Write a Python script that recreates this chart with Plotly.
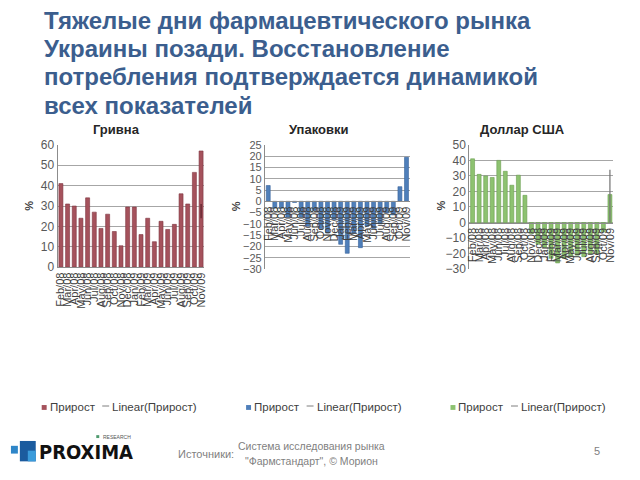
import plotly.graph_objects as go

# Months on the category axis (Feb/08 .. Nov/09)
months = ["Feb/08", "Mar/08", "Apr/08", "May/08", "Jun/08", "Jul/08", "Aug/08", "Sep/08",
          "Oct/08", "Nov/08", "Dec/08", "Jan/09", "Feb/09", "Mar/09", "Apr/09", "May/09",
          "Jun/09", "Jul/09", "Aug/09", "Sep/09", "Oct/09", "Nov/09"]

# Growth, %
grivna = [41, 31, 30, 24, 34, 27, 19, 26, 17.5, 10.5, 29.5, 29.5, 16, 24, 12.5, 22.5,
          18.5, 21, 36, 31, 46.5, 57]
upakovki = [7, -3, -3, -7, -0.5, -7, -11, -4, -12, -14, -8, -19, -23, -14, -20.5, -11,
            -12, -10, -5, -6, 6.5, 19.5]
dollar = [41, 31, 30, 29, 40, 33, 24, 30.5, 17.5, -7, -14, -16, -23, -26, -23, -22,
          -21, -22, -20, -20, -6, 18]

# what is visible of the linear trend lines
trend_grivna = [24, 31]
trend_dollar = [0, 34]

titles = ["Гривна", "Упаковки", "Доллар США"]
headline = ["Тяжелые дни фармацевтического рынка",
            "Украины позади. Восстановление",
            "потребления подтверждается динамикой",
            "всех показателей"]

W, H = 640, 480
FONT = "Liberation Sans, Arial, sans-serif"


def px(x):
    return x / W


def py(y):
    return 1 - y / H


charts = [
    dict(vals=grivna, color="#A5525C", edge="#7E3440", xr=(55, 203), yr=(142, 268),
         rng=(0, 60), dtick=10, ysize=12, trend=trend_grivna, tcolor="#5A1F2A", title_x=114),
    dict(vals=upakovki, color="#4F7FBA", edge="#36629A", xr=(264, 410), yr=(142, 270),
         rng=(-30, 25), dtick=5, ysize=11, trend=None, tcolor="#555555", title_x=318),
    dict(vals=dollar, color="#8DC270", edge="#6A9E4F", xr=(470, 615), yr=(142, 270),
         rng=(-30, 50), dtick=10, ysize=12, trend=trend_dollar, tcolor="#707070", title_x=524),
]


def note(text, x, y, size, color="#404040", xanchor="center", **kw):
    return dict(text=text, x=px(x), y=py(y), xref="paper", yref="paper", showarrow=False,
                xanchor=xanchor, yanchor="middle", font=dict(size=size, color=color), **kw)


fig = go.Figure()
layout = dict(width=W, height=H, margin=dict(l=0, r=0, t=0, b=0),
              paper_bgcolor="white", plot_bgcolor="white", showlegend=False,
              bargap=0.4, font=dict(family=FONT, color="#404040"))
annotations = []
shapes = []

for i, c in enumerate(charts, start=1):
    sfx = "" if i == 1 else str(i)
    xa, ya = "x" + sfx, "y" + sfx
    fig.add_trace(go.Bar(x=months, y=c["vals"], xaxis=xa, yaxis=ya, name="Прирост",
                         marker=dict(color=c["color"], line=dict(color=c["edge"], width=0.6))))
    if c["trend"]:
        fig.add_trace(go.Scatter(x=[months[-1]] * len(c["trend"]), y=c["trend"],
                                 xaxis=xa, yaxis=ya, mode="lines", name="Linear(Прирост)",
                                 line=dict(color=c["tcolor"], width=1.2)))

    ydom = [py(c["yr"][1]), py(c["yr"][0])]
    lo, hi = c["rng"]
    xaxis = dict(domain=[px(c["xr"][0]), px(c["xr"][1])], type="category",
                 tickmode="array", tickvals=months, ticktext=months,
                 tickangle=-90, tickfont=dict(size=11, color="#404040"),
                 showline=True, linecolor="#8C8C8C", linewidth=1, ticks="",
                 showgrid=False, fixedrange=True)
    if lo < 0:
        # category labels hang from the zero line, as in Excel
        zero_frac = ydom[0] + (0 - lo) / (hi - lo) * (ydom[1] - ydom[0])
        xaxis.update(anchor="free", position=zero_frac)
    else:
        xaxis.update(anchor=ya)
    layout["xaxis" + sfx] = xaxis
    layout["yaxis" + sfx] = dict(domain=ydom, range=[lo, hi], dtick=c["dtick"],
                                 anchor=xa, showline=True, linecolor="#8C8C8C",
                                 gridcolor="#A6A6A6", gridwidth=1, zeroline=False,
                                 tickfont=dict(size=c["ysize"], color="#595959"), ticks="",
                                 fixedrange=True)

    # chart title and % label
    annotations.append(note("<b>%s</b>" % titles[i - 1], c["title_x"], 126, 13, "#262626"))
    annotations.append(note("<b>%</b>", c["xr"][0] - 29, 205, 11, textangle=-90))

# legends under the charts
legend_pos = [39, 245, 451]
for (x0, c) in zip(legend_pos, charts):
    shapes.append(dict(type="rect", xref="paper", yref="paper", x0=px(x0), x1=px(x0 + 5),
                       y0=py(415), y1=py(410), fillcolor=c["color"], line=dict(width=0)))
    annotations.append(note("Прирост", x0 + 6, 412, 11.5, xanchor="left"))
    shapes.append(dict(type="line", xref="paper", yref="paper", x0=px(x0 + 61), x1=px(x0 + 68),
                       y0=py(411), y1=py(411), line=dict(color="#7F7F7F", width=1)))
    annotations.append(note("Linear(Прирост)", x0 + 69, 412, 11.5, xanchor="left"))

# headline, one annotation per line
for k, line in enumerate(headline):
    annotations.append(note("<b>%s</b>" % line, 39, 14 + 29 * k, 24, "#3B5E8E",
                            xanchor="left"))

# footer
annotations += [
    note("Источники:", 174, 460, 11, "#7F7F7F", xanchor="left"),
    note("Система исследования рынка", 311, 452, 10.5, "#7F7F7F"),
    note("\"Фармстандарт\", © Морион", 311, 468, 10.5, "#7F7F7F"),
    note("5", 599, 457, 11, "#7F7F7F"),
    dict(text="<b>PROXIMA</b>", x=px(34), y=py(458), xanchor="left", yanchor="middle",
         xref="paper", yref="paper", showarrow=False,
         font=dict(size=20, color="#111111",
                   family="Liberation Sans Narrow, DejaVu Sans Condensed, Liberation Sans, sans-serif")),
    note("RESEARCH", 99, 443, 5, "#555555", xanchor="left"),
]
logo = [(8, 452, 15, 460, "#2E86C8"), (17, 447, 33, 468, "#1B5B9E"),
        (25, 457, 33, 468, "#3A9BDB"), (94, 441, 97, 444, "#4E9A6E")]
for x0, y0, x1, y1, col in logo:
    shapes.append(dict(type="rect", xref="paper", yref="paper", x0=px(x0), x1=px(x1),
                       y0=py(y1), y1=py(y0), fillcolor=col, line=dict(width=0)))

layout["annotations"] = annotations
layout["shapes"] = shapes
fig.update_layout(**layout)

# drop the default 8px body margin so the 640x480 figure fills the window
fig.write_html("out.html", config={"displayModeBar": False},
               post_script="document.body.style.margin = '0px';")
